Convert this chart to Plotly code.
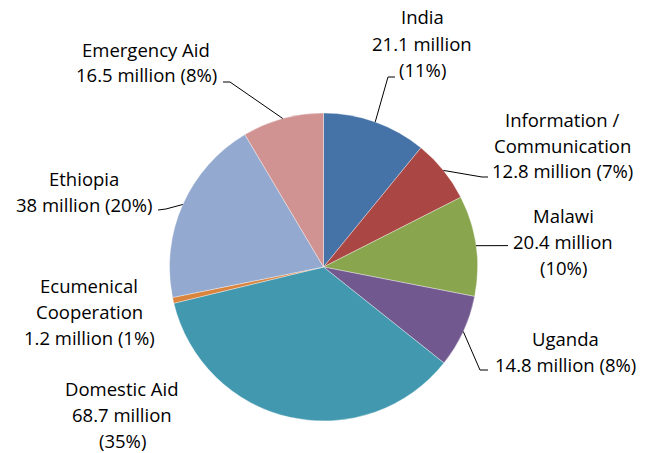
import math
import plotly.graph_objects as go

# ---- data ----
categories = ["India", "Information / Communication", "Malawi", "Uganda",
              "Domestic Aid", "Ecumenical Cooperation", "Ethiopia", "Emergency Aid"]
values = [21.1, 12.8, 20.4, 14.8, 68.7, 1.2, 38, 16.5]
percent_labels = ["11%", "7%", "10%", "8%", "35%", "1%", "20%", "8%"]
colors = ["#4572A7", "#AA4643", "#89A54E", "#71588F",
          "#4198AF", "#DB843D", "#93A9CF", "#D19392"]

# ---- layout constants ----
W, H = 650, 453
CX, CY, R = 323.5, 267.0, 154.0
FONT = dict(family="Open Sans, sans-serif", size=18.5, color="#000000")
LINE_H = 26.0

def val_txt(v, p):
    return f"{v:g} million ({p})"

# label text lines, label center (x, first-line y), leader elbow points (pixels)
label_specs = {
    "India": dict(lines=lambda v, p: ["India", f"{v:g} million", f"({p})"],
                  pos=(422, 17), leader=[(388, 77), (395, 77)]),
    "Information / Communication": dict(
        lines=lambda v, p: ["Information /", "Communication", val_txt(v, p)],
        pos=(562, 119), leader=[(482, 177), (488, 177)]),
    "Malawi": dict(lines=lambda v, p: ["Malawi", f"{v:g} million", f"({p})"],
                   pos=(563, 215), leader=[(508, 245.6)]),
    "Uganda": dict(lines=lambda v, p: ["Uganda", val_txt(v, p)],
                   pos=(565, 338), leader=[(480, 370), (488, 370)]),
    "Domestic Aid": dict(lines=lambda v, p: ["Domestic Aid", f"{v:g} million", f"({p})"],
                         pos=(122, 388), leader=None),
    "Ecumenical Cooperation": dict(
        lines=lambda v, p: ["Ecumenical", "Cooperation", val_txt(v, p)],
        pos=(89, 285), leader=None),
    "Ethiopia": dict(lines=lambda v, p: ["Ethiopia", val_txt(v, p)],
                     pos=(84, 178), leader=[(166, 209), (158, 210)]),
    "Emergency Aid": dict(lines=lambda v, p: ["Emergency Aid", val_txt(v, p)],
                          pos=(146, 49), leader=[(230, 82), (223, 82)]),
}

def px(x, y):
    return x / W, 1 - y / H

fig = go.Figure(go.Pie(
    labels=categories, values=values, sort=False, direction="clockwise",
    rotation=0, textinfo="none", hoverinfo="label+value+percent",
    marker=dict(colors=colors, line=dict(color="rgba(255,255,255,0.6)", width=0.6)),
    domain=dict(x=[(CX - R) / W, (CX + R) / W],
                y=[1 - (CY + R) / H, 1 - (CY - R) / H]),
    showlegend=False,
))

total = sum(values)
annotations = []
shapes = []
cum = 0.0
for cat, v, p in zip(categories, values, percent_labels):
    mid = (cum + v / 2) / total * 2 * math.pi
    cum += v
    spec = label_specs[cat]
    lx, ly = spec["pos"]
    for i, line in enumerate(spec["lines"](v, p)):
        xp, yp = px(lx, ly + i * LINE_H)
        annotations.append(dict(x=xp, y=yp, xref="paper", yref="paper",
                                text=line, showarrow=False, font=FONT,
                                borderpad=0,
                                xanchor="center", yanchor="middle"))
    if spec["leader"]:
        sx = CX + R * math.sin(mid)
        sy = CY - R * math.cos(mid)
        pts = [(sx, sy)] + spec["leader"]
        path = ""
        for j, (x, y) in enumerate(pts):
            xp, yp = px(x, y)
            path += ("M" if j == 0 else " L") + f" {xp:.5f},{yp:.5f}"
        shapes.append(dict(type="path", path=path, xref="paper", yref="paper",
                           line=dict(color="#000000", width=1)))

fig.update_layout(
    width=W, height=H, margin=dict(l=0, r=0, t=0, b=0),
    paper_bgcolor="white", plot_bgcolor="white",
    annotations=annotations, shapes=shapes,
)

fig.write_html("out.html", config={"displayModeBar": False},
               post_script="document.body.style.margin='0';document.body.style.padding='0';")
